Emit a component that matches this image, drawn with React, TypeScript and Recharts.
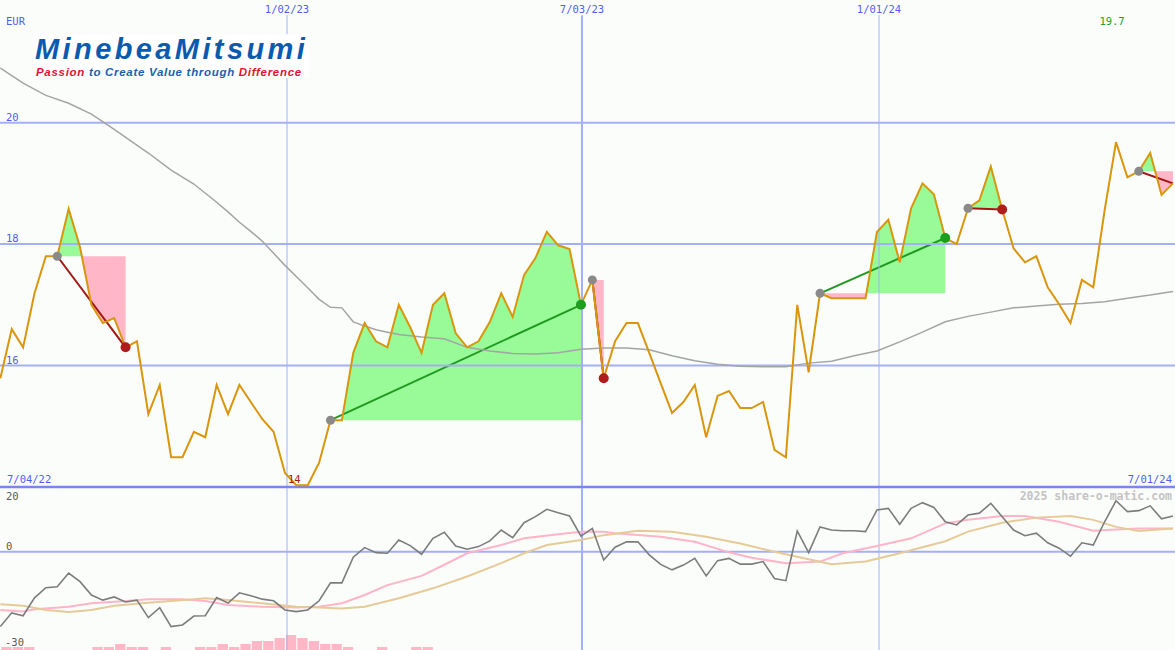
import React from 'react';
import { ComposedChart, Line, Area, Bar, XAxis, YAxis, ReferenceLine, ReferenceDot } from 'recharts';

// ---------------- data ----------------
// weekly closes in EUR, week 0 = 7/04/22
const prices = [
  15.79, 16.6, 16.3, 17.19, 17.8, 17.8, 18.58, 17.95, 17.0, 16.7,
  16.78, 16.3, 16.4, 15.2, 15.68, 14.49, 14.49, 14.91, 14.82, 15.68,
  15.2, 15.68, 15.4, 15.12, 14.91, 14.23, 14.03, 14.03, 14.4, 15.1,
  15.1, 16.21, 16.7, 16.4, 16.3, 17.0, 16.63, 16.21, 17.0, 17.19,
  16.53, 16.3, 16.4, 16.72, 17.19, 16.8, 17.49, 17.77, 18.2, 17.98,
  17.92, 17.0, 17.41, 15.79, 16.4, 16.7, 16.7, 16.21, 15.71, 15.22,
  15.4, 15.68, 14.82, 15.5, 15.58, 15.3, 15.3, 15.4, 14.61, 14.49,
  17.0, 15.89, 17.19, 17.11, 17.11, 17.11, 17.11, 18.2, 18.4, 17.7,
  18.59, 19.0, 18.82, 18.1, 18.0, 18.59, 18.72, 19.28, 18.57, 17.93,
  17.7, 17.8, 17.29, 17.01, 16.7, 17.41, 17.29, 18.56, 19.68, 19.1,
  19.2, 19.5, 18.81, 19.0,
];

// long moving average (read at these weeks)
const maWeeks = [0, 2, 4, 6, 8, 10, 13, 15, 17, 19, 20, 21, 22, 23, 25, 27, 28, 29, 30, 31, 32, 33, 34, 35, 37, 39, 41, 43, 45, 47, 49, 51, 53, 55, 57, 59, 61, 63, 65, 67, 69, 71, 73, 75, 77, 79, 81, 83, 85, 87, 89, 91, 93, 95, 97, 99, 101, 103];
const maValues = [20.9, 20.65, 20.45, 20.32, 20.14, 19.89, 19.5, 19.22, 18.99, 18.69, 18.53, 18.36, 18.21, 18.05, 17.65, 17.28, 17.09, 16.96, 16.95, 16.72, 16.65, 16.59, 16.55, 16.51, 16.47, 16.44, 16.3, 16.24, 16.2, 16.19, 16.21, 16.27, 16.29, 16.29, 16.26, 16.16, 16.08, 16.02, 15.99, 15.98, 15.98, 16.04, 16.07, 16.16, 16.24, 16.39, 16.55, 16.72, 16.81, 16.88, 16.95, 16.98, 17.01, 17.02, 17.05, 17.11, 17.16, 17.22];

// trades (week of entry / exit)
const tradeEntry = [5, 29, 52, 72, 85, 100];
const tradeExit = [11, 51, 53, 83, 88, 103];
const tradeOpen = [false, false, false, false, false, true];

// lower panel
const momentum = [
  -23.5, -19.2, -20.1, -14.5, -11.3, -11.0, -6.7, -9.4, -13.6, -15.2,
  -14.2, -15.8, -15.2, -20.7, -17.6, -23.5, -23.0, -20.2, -20.1, -14.4,
  -16.1, -12.9, -13.8, -14.9, -15.4, -18.3, -18.8, -18.3, -15.4, -9.8,
  -9.8, -1.7, 1.3, -0.3, -0.5, 3.7, 1.9, -0.8, 4.2, 6.1,
  1.8, 0.8, 1.6, 3.4, 6.8, 4.4, 9.1, 11.0, 13.3, 12.2,
  11.2, 4.9, 7.3, -2.6, 1.4, 3.1, 3.1, -1.0, -4.0, -5.7,
  -4.2, -2.1, -7.6, -2.8, -2.1, -3.9, -3.9, -3.1, -8.4, -9.1,
  6.5, -0.3, 7.8, 6.8, 6.6, 6.6, 6.3, 13.1, 13.6, 8.6,
  13.6, 15.4, 13.9, 9.4, 8.4, 11.5, 12.1, 15.2, 11.0, 6.8,
  5.0, 5.8, 2.8, 1.1, -1.4, 2.8, 2.1, 9.4, 16.0, 12.6,
  12.9, 14.4, 10.3, 11.2,
];
const pinkWeeks = [0, 2, 3, 6, 8, 11, 13, 16, 18, 20, 23, 26, 28, 30, 32, 34, 37, 39, 41, 44, 46, 49, 51, 53, 54, 58, 61, 64, 66, 69, 72, 74, 77, 80, 83, 85, 88, 90, 93, 96, 98, 100, 103];
const pinkValues = [-18.3, -18.8, -18.1, -17.3, -16.2, -15.5, -14.9, -14.9, -15.5, -16.7, -17.3, -17.5, -17.3, -16.2, -13.6, -10.5, -7.6, -4.1, -0.5, 2.1, 4.2, 5.5, 6.3, 6.3, 5.8, 4.7, 3.1, -0.2, -1.9, -3.6, -3.1, -0.5, 1.8, 4.2, 8.9, 10.0, 11.2, 11.2, 9.4, 6.6, 7.0, 7.3, 7.3];
const tanWeeks = [0, 2, 4, 6, 8, 10, 13, 17, 18, 20, 23, 26, 28, 30, 32, 35, 38, 41, 44, 46, 48, 51, 53, 56, 59, 62, 65, 68, 71, 73, 76, 79, 83, 85, 88, 91, 94, 96, 98, 100, 103];
const tanValues = [-16.5, -17.0, -18.3, -18.9, -18.3, -17.0, -16.0, -14.9, -14.6, -15.2, -16.2, -17.3, -17.5, -17.8, -17.3, -14.6, -11.5, -7.8, -3.6, -0.5, 2.1, 3.7, 5.2, 6.6, 6.3, 4.7, 2.6, 0, -2.4, -3.9, -3.1, -0.5, 3.3, 6.3, 9.1, 10.7, 11.2, 10.0, 7.8, 6.5, 7.3];
const histWeeks = [0, 1, 2, 8, 9, 10, 11, 12, 14, 17, 18, 19, 20, 21, 22, 23, 24, 25, 26, 27, 28, 29, 30, 33, 36, 37];
const histLevels = [1, 1, 1, 1, 1, 2, 1, 1, 1, 1, 1, 2, 1, 2, 3, 3, 4, 5, 4, 3, 2, 2, 1, 1, 1, 1];

// axes / labels
const gridWeeks = [25.18, 51.09, 77.18];
const gridLabels = ['1/02/23', '7/03/23', '1/01/24'];
const gridWidths = [1, 2, 1];
const priceTicks = [16, 18, 20];
const lowerTicks = [20, 0, -30];
const startLabel = '7/04/22';
const endLabel = '7/01/24';
const currency = 'EUR';
const watermark = '2025 share-o-matic.com';

// ---------------- layout ----------------
const W = 1175;
const MAIN_H = 487;
const LOW_TOP = 488;
const LOW_H = 162;
const X_MIN = -0.03;
const X_MAX = 103.18;
const P_MIN = 14;
const P_MAX = 22.02;
const V_LINE_TOP = 21.77;
const L_MIN = -30.86;
const L_MAX = 20;
const BG = '#fbfdfb';
const GRID = '#a4b0f4';
const BLUE_TXT = '#4f5ff0';
const GREEN_FILL = '#98fb98';
const PINK_FILL = '#ffb6c6';
const mono = '"DejaVu Sans Mono", monospace';
const logoFont = '"Liberation Sans", Arial, sans-serif';

// ---------------- build data ----------------
const mainRows: any[] = prices.map((p, k) => ({ x: k, price: p }));
maWeeks.forEach((k, i) => { mainRows[k].ma = maValues[i]; });
const extraRows: any[] = [];
tradeEntry.forEach((s, i) => {
  const e = tradeExit[i];
  const E = prices[s];
  for (let k = s; k <= e; k++) {
    const p = prices[k];
    mainRows[k]['g' + i] = [E, Math.max(p, E)];
    mainRows[k]['r' + i] = [Math.min(p, E), E];
    if (k < e) {
      const q = prices[k + 1];
      if ((p - E) * (q - E) < 0) {
        const t = (E - p) / (q - p);
        extraRows.push({ x: k + t, ['g' + i]: [E, E], ['r' + i]: [E, E] });
      }
    }
  }
});
const mainData = [...mainRows, ...extraRows].sort((a, b) => a.x - b.x);

const lowData: any[] = momentum.map((m, k) => ({ x: k, mom: m }));
pinkWeeks.forEach((k, i) => { lowData[k].pink = pinkValues[i]; });
tanWeeks.forEach((k, i) => { lowData[k].tan = tanValues[i]; });
histWeeks.forEach((k, i) => { lowData[k].hist = histLevels[i]; });

let minK = 0, maxK = 0;
prices.forEach((p, k) => { if (p < prices[minK]) minK = k; if (p > prices[maxK]) maxK = k; });
const fmt = (v: number) => String(Number(v.toFixed(1)));

const txt = (s: string, dx: number, dy: number, color: string, anchor: any = 'start', size = 10.5, weight: any = 'normal') => (p: any) => (
  <text x={p.cx + dx} y={p.cy + dy} fill={color} fontSize={size} fontFamily={mono} fontWeight={weight} textAnchor={anchor} dominantBaseline="central">{s}</text>
);

export default function App() {
  return (
    <div style={{ position: 'absolute', left: 0, top: 0, width: W, height: 650, background: BG, overflow: 'hidden' }}>
      <div style={{ position: 'absolute', left: 0, top: 0 }}>
        <ComposedChart width={W} height={MAIN_H + 3} data={mainData} margin={{ top: 0, right: 0, bottom: 3, left: 0 }}>
          <XAxis dataKey="x" type="number" domain={[X_MIN, X_MAX]} allowDataOverflow hide />
          <YAxis type="number" domain={[P_MIN, P_MAX]} allowDataOverflow hide />
          {priceTicks.map((t) => (
            <ReferenceLine key={'h' + t} y={t} stroke={GRID} strokeWidth={2} />
          ))}
          {gridWeeks.map((k, i) => (
            <ReferenceLine key={'v' + i} segment={[{ x: k, y: P_MIN }, { x: k, y: V_LINE_TOP }]} stroke={GRID} strokeWidth={gridWidths[i]} />
          ))}
          <ReferenceLine y={P_MIN} stroke="#7a86ec" strokeWidth={2.5} />
          {tradeEntry.map((s, i) => (
            <Area key={'g' + i} dataKey={'g' + i} type="linear" fill={GREEN_FILL} fillOpacity={1} stroke="none" dot={false} activeDot={false} isAnimationActive={false} />
          ))}
          {tradeEntry.map((s, i) => (
            <Area key={'r' + i} dataKey={'r' + i} type="linear" fill={PINK_FILL} fillOpacity={1} stroke="none" dot={false} activeDot={false} isAnimationActive={false} />
          ))}
          {tradeEntry.map((s, i) => {
            const e = tradeExit[i];
            const up = prices[e] > prices[s];
            return (
              <ReferenceLine key={'tl' + i} zIndex={350} segment={[{ x: s, y: prices[s] }, { x: e, y: prices[e] }]} stroke={up ? '#1f9a1f' : '#a31616'} strokeWidth={2} />
            );
          })}
          <Line dataKey="ma" type="linear" stroke="#a4a4a4" strokeWidth={1.5} dot={false} activeDot={false} connectNulls isAnimationActive={false} />
          <Line dataKey="price" type="linear" stroke="#d9960c" strokeWidth={2} dot={false} activeDot={false} connectNulls isAnimationActive={false} />
          {tradeEntry.map((s, i) => (
            <ReferenceDot key={'te' + i} x={s} y={prices[s]} r={4.5} fill="#8a8a8a" stroke="none" />
          ))}
          {tradeExit.map((e, i) => tradeOpen[i] ? null : (
            <ReferenceDot key={'tx' + i} x={e} y={prices[e]} r={5} fill={prices[e] > prices[tradeEntry[i]] ? '#1e9e1e' : '#b01c1c'} stroke="none" />
          ))}
          {priceTicks.map((t) => (
            <ReferenceDot key={'pl' + t} x={X_MIN} y={t} r={1} shape={txt(String(t), 6, -6, BLUE_TXT)} />
          ))}
          <ReferenceDot x={X_MIN} y={P_MAX} r={1} shape={txt(currency, 6, 21, BLUE_TXT)} />
          {gridWeeks.map((k, i) => (
            <ReferenceDot key={'gl' + i} x={k} y={P_MAX} r={1} shape={txt(gridLabels[i], 0, 9, BLUE_TXT, 'middle')} />
          ))}
          <ReferenceDot x={X_MIN} y={P_MIN} r={1} shape={txt(startLabel, 7, -8, BLUE_TXT)} />
          <ReferenceDot x={X_MAX} y={P_MIN} r={1} shape={txt(endLabel, -3, -8, BLUE_TXT, 'end')} />
          <ReferenceDot x={minK} y={P_MIN} r={1} shape={txt(fmt(prices[minK]), -2, -8, '#b01818', 'middle')} />
          <ReferenceDot x={maxK} y={P_MAX} r={1} shape={txt(fmt(prices[maxK]), -4, 21, '#22a022', 'middle')} />
        </ComposedChart>
      </div>

      <div style={{ position: 'absolute', left: 0, top: LOW_TOP }}>
        <ComposedChart width={W} height={LOW_H} data={lowData} margin={{ top: 0, right: 0, bottom: 0, left: 0 }} barCategoryGap={0} barGap={0}>
          <XAxis xAxisId="a" dataKey="x" type="number" domain={[X_MIN, X_MAX]} allowDataOverflow hide />
          <XAxis xAxisId="b" dataKey="x" type="number" domain={[X_MIN - 0.5, X_MAX - 0.5]} allowDataOverflow hide />
          <YAxis yAxisId="v" type="number" domain={[L_MIN, L_MAX]} allowDataOverflow hide />
          <YAxis yAxisId="h" type="number" domain={[0, 54]} allowDataOverflow hide />
          <ReferenceLine xAxisId="a" yAxisId="v" y={0} stroke={GRID} strokeWidth={2} />
          {gridWeeks.map((k, i) => (
            <ReferenceLine key={'lv' + i} xAxisId="a" yAxisId="v" x={k} stroke={GRID} strokeWidth={gridWidths[i]} />
          ))}
          <Bar xAxisId="b" yAxisId="h" dataKey="hist" fill={PINK_FILL} barSize={12} isAnimationActive={false} />
          <Line xAxisId="a" yAxisId="v" dataKey="pink" type="linear" stroke="#ffb4c8" strokeWidth={2} dot={false} activeDot={false} connectNulls isAnimationActive={false} />
          <Line xAxisId="a" yAxisId="v" dataKey="tan" type="linear" stroke="#e6ca98" strokeWidth={2} dot={false} activeDot={false} connectNulls isAnimationActive={false} />
          <Line xAxisId="a" yAxisId="v" dataKey="mom" type="linear" stroke="#7c7c7c" strokeWidth={1.6} dot={false} activeDot={false} isAnimationActive={false} />
          <ReferenceDot xAxisId="a" yAxisId="v" x={X_MIN} y={lowerTicks[0]} r={1} shape={txt(String(lowerTicks[0]), 6, 8, '#5a5a5a')} />
          <ReferenceDot xAxisId="a" yAxisId="v" x={X_MIN} y={lowerTicks[1]} r={1} shape={txt(String(lowerTicks[1]), 6, -6, '#5a5a5a')} />
          <ReferenceDot xAxisId="a" yAxisId="v" x={X_MIN} y={lowerTicks[2]} r={1} shape={txt(String(lowerTicks[2]), 5, -5, '#5a5a5a')} />
          <ReferenceDot xAxisId="a" yAxisId="v" x={X_MAX} y={L_MAX} r={1} shape={txt(watermark, -3, 8, '#c4c4c4', 'end', 11.5, 'bold')} />
        </ComposedChart>
      </div>

      <div style={{ position: 'absolute', left: 33, top: 34, width: 276, height: 44, background: '#ffffff' }}>
        <div style={{ position: 'absolute', left: 2, top: -1.2, fontFamily: logoFont, fontStyle: 'italic', fontWeight: 'bold', fontSize: 29, lineHeight: '32.4px', letterSpacing: 3.4, color: '#0a5bb0', whiteSpace: 'nowrap' }}>
          MinebeaMitsumi
        </div>
        <div style={{ position: 'absolute', left: 3, top: 31.5, fontFamily: logoFont, fontStyle: 'italic', fontWeight: 'bold', fontSize: 11.5, lineHeight: '12.85px', letterSpacing: 0.7, color: '#1a5fb0', whiteSpace: 'nowrap' }}>
          <span style={{ color: '#e3122c' }}>Passion</span> to Create Value through <span style={{ color: '#e3122c' }}>Difference</span>
        </div>
      </div>
    </div>
  );
}
